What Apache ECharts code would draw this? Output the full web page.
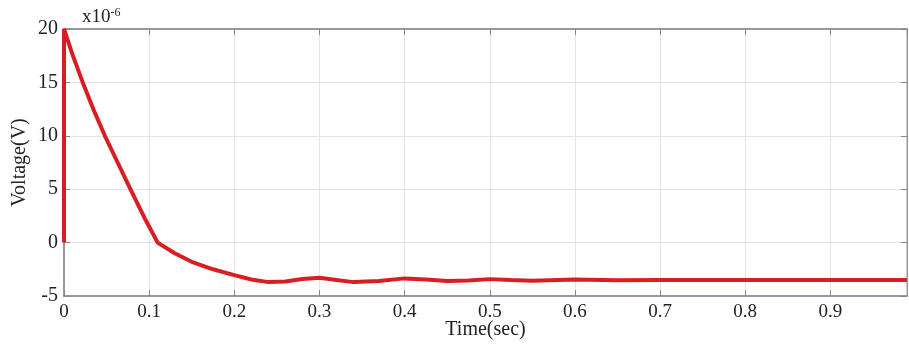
<!DOCTYPE html>
<html>
<head>
<meta charset="utf-8">
<script src="https://cdn.jsdelivr.net/npm/echarts@6/dist/echarts.min.js"></script>
<style>
  html, body { margin: 0; padding: 0; background: #fff; }
  #chart { width: 909px; height: 347px; }
</style>
</head>
<body>
<div id="chart"></div>
<script>
// time in seconds, voltage in units of 1e-6 V
var times = [0, 0, 0.01, 0.022, 0.035, 0.048, 0.063, 0.078, 0.094, 0.11, 0.13, 0.15, 0.175, 0.2, 0.22, 0.24,
  0.26, 0.28, 0.3, 0.32, 0.34, 0.37, 0.4, 0.425, 0.45, 0.475, 0.5, 0.525, 0.55, 0.6, 0.65, 0.7, 0.8, 0.9, 0.99];
var volts = [0, 20, 17.6, 15, 12.4, 10, 7.5, 5, 2.4, 0, -1, -1.8, -2.5, -3.05, -3.45, -3.7,
  -3.65, -3.4, -3.3, -3.5, -3.7, -3.6, -3.35, -3.45, -3.6, -3.55, -3.42, -3.5, -3.57, -3.45, -3.52, -3.5, -3.5, -3.5, -3.5];
var yTicks = [-5, 0, 5, 10, 15, 20];

var serif = 'Liberation Serif';
var points = times.map(function (t, i) { return [t, volts[i]]; });

var myChart = echarts.init(document.getElementById('chart'));
var option = {
  animation: false,
  title: {
    text: '{b|x10}{s|-6}',
    left: 77,
    top: 2,
    textStyle: {
      fontWeight: 'normal',
      rich: {
        b: { fontFamily: serif, fontSize: 19, fontWeight: 'normal', color: '#222', verticalAlign: 'bottom' },
        s: { fontFamily: serif, fontSize: 12, fontWeight: 'normal', color: '#222', verticalAlign: 'top', padding: [0, 0, 8, 0] }
      }
    }
  },
  grid: {
    left: 64, top: 29, right: 2, bottom: 51,
    outerBoundsMode: 'none',
    containLabel: false,
    show: true, borderColor: '#999', borderWidth: 1
  },
  xAxis: [{
    type: 'value',
    min: 0, max: 0.99, interval: 0.1,
    name: 'Time(sec)',
    nameLocation: 'middle',
    nameMoveOverlap: false,
    nameGap: 24,
    nameTextStyle: { fontFamily: serif, fontSize: 20, color: '#222' },
    axisLine: { show: true, onZero: false, lineStyle: { color: '#999', width: 2 } },
    axisTick: { show: true, inside: true, length: 6, lineStyle: { color: '#888' } },
    axisLabel: { fontFamily: serif, fontSize: 19, color: '#222', margin: 7, showMaxLabel: false },
    splitLine: { show: true, lineStyle: { color: '#e4e4e4', width: 1 } }
  }, {
    type: 'value',
    position: 'top',
    min: 0, max: 0.99, interval: 0.1,
    axisLine: { show: true, onZero: false, lineStyle: { color: '#999', width: 2 } },
    axisTick: { show: true, inside: true, length: 6, lineStyle: { color: '#888' } },
    axisLabel: { show: false },
    splitLine: { show: false }
  }],
  yAxis: [{
    type: 'value',
    min: yTicks[0], max: yTicks[yTicks.length - 1], interval: 5,
    name: 'Voltage(V)',
    nameLocation: 'middle',
    nameMoveOverlap: false,
    nameGap: 34,
    nameTextStyle: { fontFamily: serif, fontSize: 20, color: '#222' },
    axisLine: { show: true, onZero: false, lineStyle: { color: '#999', width: 2 } },
    axisTick: { show: true, inside: true, length: 6, lineStyle: { color: '#888' } },
    axisLabel: { fontFamily: serif, fontSize: 20, color: '#222', margin: 6 },
    splitLine: { show: true, lineStyle: { color: '#e4e4e4', width: 1 } }
  }, {
    type: 'value',
    position: 'right',
    min: yTicks[0], max: yTicks[yTicks.length - 1], interval: 5,
    axisLine: { show: true, onZero: false, lineStyle: { color: '#999', width: 1 } },
    axisTick: { show: true, inside: true, length: 6, lineStyle: { color: '#888' } },
    axisLabel: { show: false },
    splitLine: { show: false }
  }],
  series: [{
    type: 'line',
    data: points,
    showSymbol: false,
    smooth: false,
    lineStyle: { color: '#d81e22', width: 4 },
    z: 5
  }]
};
myChart.setOption(option);
</script>
</body>
</html>
